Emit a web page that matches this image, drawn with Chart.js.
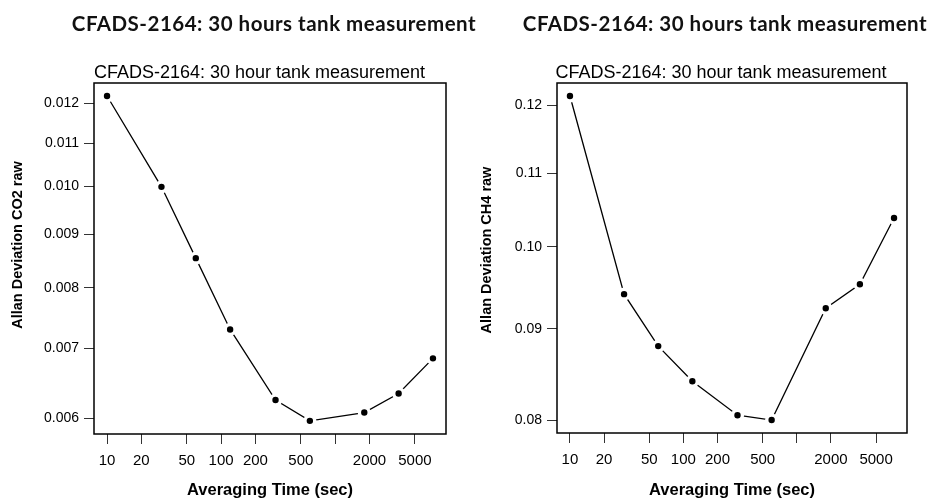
<!DOCTYPE html>
<html>
<head>
<meta charset="utf-8">
<title>CFADS-2164 Allan deviation</title>
<script src="https://cdn.jsdelivr.net/npm/chart.js@4.4.1/dist/chart.umd.min.js"></script>
<style>
    html, body { margin: 0; padding: 0; background: #fff; }
    #wrap { position: relative; width: 931px; height: 500px; overflow: hidden; }
    .panel { position: absolute; top: 0; }
    .headline {
        position: absolute; top: 11px; transform: translateX(-50%); white-space: nowrap;
        font-family: Lato, "Open Sans", sans-serif; font-weight: bold; font-size: 20.5px;
        letter-spacing: 0.5px; line-height: 24px; color: #111;
    }
</style>
</head>
<body>
<div id="wrap">
    <canvas id="co2Chart" class="panel" style="left:0" width="465" height="500"></canvas>
    <canvas id="ch4Chart" class="panel" style="left:465px" width="466" height="500"></canvas>
    <div class="headline" style="left:274px">CFADS-2164: 30 hours tank measurement</div>
    <div class="headline" style="left:725px">CFADS-2164: 30 hours tank measurement</div>
</div>
<script>
const tauSec = [10, 30, 60, 120, 300, 600, 1800, 3600, 7200];
const co2Adev = [0.01220, 0.00999, 0.00854, 0.00730, 0.00625, 0.00597, 0.00608, 0.00634, 0.00685];
const ch4Adev = [0.1215, 0.0941, 0.0880, 0.0841, 0.0805, 0.0800, 0.0924, 0.0953, 0.1038];

const xTickValues = [10, 20, 50, 100, 200, 500, 1000, 2000, 5000];
const xTickLabels = ['10', '20', '50', '100', '200', '500', '', '2000', '5000'];
const co2TickValues = [0.006, 0.007, 0.008, 0.009, 0.010, 0.011, 0.012];
const co2TickLabels = ['0.006', '0.007', '0.008', '0.009', '0.010', '0.011', '0.012'];
const ch4TickValues = [0.08, 0.09, 0.10, 0.11, 0.12];
const ch4TickLabels = ['0.08', '0.09', '0.10', '0.11', '0.12'];

const innerTitle = 'CFADS-2164: 30 hour tank measurement';
const fontFamily = '"Liberation Sans", Arial, sans-serif';

// R pads a log axis by 4% of the data range on both ends
function logRange(values) {
    const lo = Math.log10(Math.min(...values));
    const hi = Math.log10(Math.max(...values));
    const pad = (hi - lo) * 0.04;
    return { min: Math.pow(10, lo - pad), max: Math.pow(10, hi + pad) };
}

// plot box, inner title and the rotated y label
const panelText = {
    id: 'panelText',
    afterDraw(chart, args, opts) {
        const { ctx, chartArea } = chart;
        ctx.save();
        ctx.strokeStyle = '#000';
        ctx.lineWidth = 1.5;
        ctx.strokeRect(chartArea.left, chartArea.top,
            chartArea.right - chartArea.left, chartArea.bottom - chartArea.top);
        ctx.fillStyle = '#000';
        ctx.textAlign = 'center';
        ctx.textBaseline = 'alphabetic';
        ctx.font = `18px ${fontFamily}`;
        ctx.fillText(innerTitle, opts.titleX, opts.titleY);
        ctx.translate(opts.labelX, opts.labelY);
        ctx.rotate(-Math.PI / 2);
        ctx.textBaseline = 'middle';
        ctx.font = `bold 14.5px ${fontFamily}`;
        ctx.fillText(opts.label, 0, 0);
        ctx.restore();
    },
};

function makeChart(id, values, yTickValues, yTickLabels, yLabel, box) {
    const xr = logRange(tauSec);
    const yr = logRange(values);
    return new Chart(document.getElementById(id), {
        type: 'line',
        data: {
            datasets: [{
                data: tauSec.map((t, i) => ({ x: t, y: values[i] })),
                borderColor: '#000',
                borderWidth: 1.3,
                tension: 0,
                pointRadius: 4.9,
                pointBackgroundColor: '#000',
                pointBorderColor: '#fff',
                pointBorderWidth: 3.4,
            }],
        },
        options: {
            responsive: false,
            animation: false,
            events: [],
            layout: { padding: { top: box.top, right: box.right, left: 0, bottom: 0 } },
            plugins: {
                legend: { display: false },
                tooltip: { enabled: false },
                panelText: {
                    titleX: box.titleX, titleY: 78,
                    label: yLabel, labelX: box.labelX, labelY: box.labelY,
                },
            },
            scales: {
                x: {
                    type: 'logarithmic',
                    min: xr.min,
                    max: xr.max,
                    afterBuildTicks: (axis) => { axis.ticks = xTickValues.map((v) => ({ value: v })); },
                    afterFit: (axis) => { axis.height = box.xHeight; },
                    ticks: {
                        callback: (v, i) => xTickLabels[i],
                        autoSkip: false,
                        maxRotation: 0,
                        padding: 8,
                        color: '#000',
                        font: { family: fontFamily, size: 15 },
                    },
                    grid: { drawOnChartArea: false, tickLength: 10, tickColor: '#333' },
                    border: { display: false },
                    title: {
                        display: true,
                        text: 'Averaging Time (sec)',
                        color: '#000',
                        font: { family: fontFamily, size: 16.5, weight: 'bold' },
                        padding: { top: 0, bottom: 0 },
                    },
                },
                y: {
                    type: 'logarithmic',
                    min: yr.min,
                    max: yr.max,
                    afterBuildTicks: (axis) => { axis.ticks = yTickValues.map((v) => ({ value: v })); },
                    afterFit: (axis) => { axis.width = box.yWidth; },
                    ticks: {
                        callback: (v, i) => yTickLabels[i],
                        autoSkip: false,
                        padding: 5,
                        color: '#000',
                        font: { family: fontFamily, size: 14 },
                    },
                    grid: { drawOnChartArea: false, tickLength: 10, tickColor: '#333' },
                    border: { display: false },
                },
            },
        },
        plugins: [panelText],
    });
}

makeChart('co2Chart', co2Adev, co2TickValues, co2TickLabels, 'Allan Deviation CO2 raw',
    { top: 83, right: 19, yWidth: 94, xHeight: 66, titleX: 259.5, labelX: 17.5, labelY: 245 });
makeChart('ch4Chart', ch4Adev, ch4TickValues, ch4TickLabels, 'Allan Deviation CH4 raw',
    { top: 83, right: 24, yWidth: 92, xHeight: 67, titleX: 256, labelX: 22, labelY: 250 });
</script>
</body>
</html>
